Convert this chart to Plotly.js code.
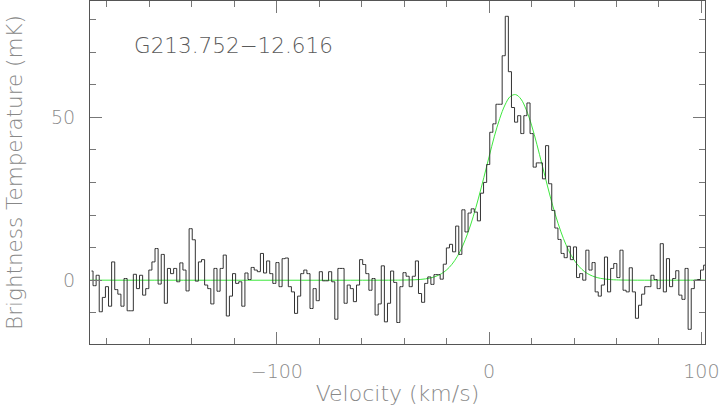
<!DOCTYPE html>
<html>
<head>
<meta charset="utf-8">
<script src="https://cdn.plot.ly/plotly-3.0.1.min.js"></script>
<style>html,body{margin:0;padding:0;background:#fff;}#chart{width:721px;height:406px;}</style>
</head>
<body>
<div id="chart"></div>
<script>
// Channel grid of the spectrum (km/s)
const V0 = -187.3;
const DV = 1.46;

// Brightness temperature per channel (mK)
const tempBlockA = [2.8, -1.7, 1.5, -9.7, -5.3, -2, -8, 5.6, -2.9, -4.3, -8, 0.5, -9.4, -9.4, 1.8, -2.6, 1.5, -4.6, -2.6, 3.1, 5.6, 9.7, -1.2, 7.9, -7.1, 3.6, 2, 3.6, -0.5, 5.3, 3.1, -3.3];
const tempBlockB = [15.8, 12.4, -0.3, 5.6, 6.3, -1.5, -2.6, -7.3, 3.6, -3.4, 3.6, 7.7, -11, -4.9, 2, -1, -0.5, -8, 2.2, 0.2, 3.9, 3.1, 2.6, 8.2, 2.2, 5.9, 2, -1, 5.4, -2, 6.6, 6.8, -2];
const tempBlockC = [-3.6, -10.2, -4.9, 2, 3.1, 2, -8.7, -2.6, -6.3, 2.6, -0.2, -0.2, 2.6, -0.5, -12, 3.6, 3.6, -7.1, -1.5, -2.6, -6.6, -1.5, 6.3, 4.8, 2, -3.1, 0.5, -10.7, -7.3, 4.4, -12.8];
const tempBlockD = [-7.1, 2.8, -0.7, -13, -2, 2.3, 1.2, -2, 1.2, 5.9, -4.1, -6.8, -1, 1, -1.3, 1.7, 1.7, 0.3, 4.9, 9.9, 11, 8.7, 16.6, 7.9, 21.6, 14.8, 20.6, 21.9, 20.9, 18.2];
const tempBlockE = [26.7, 30, 35.5, 45.4, 48, 54, 54, 68.9, 81, 64, 53, 48.5, 50.5, 45, 50.5, 54.4, 45, 34.7, 36, 36, 31.1, 41.3, 29.6, 21.4, 16, 12.5];
const tempBlockF = [8.2, 6.9, 10.4, 6.3, 10.2, 0.8, 2, 0, 9.2, 3.1, 5.4, -3.6, -4.9, -1.5, 7.1, -3.6, 3.6, 5.1, 0.8, 9.2, -3.1, -3.6, 3.8, -3.6, -11.7];
const tempBlockG = [-7.7, -4.3, -2, -2, 1.5, 0.2, -2.6, 11.2, -3.6, 6.6, -2, 0.5, 2.9, -4.6, -5.9, 3.6, -15.1, -2.6, 0, 0.2, 3.1, 4.6];

// Gaussian fit curve (green)
const fitVelocity = [-188, -45, -40, -37.5, -35, -32.5, -30, -27.5, -25, -22.5, -20, -17.5, -15, -12.5, -10, -7.5, -5, -2.5, 0, 2.5, 5, 7.5, 10, 12.5, 15, 17.5, 20, 22.5, 25, 27.5, 30, 32.5, 35, 37.5, 40, 42.5, 45, 47.5, 50, 52.5, 55, 57.5, 60, 65, 102];
const fitTemp = [0, 0, 0.03, 0.06, 0.11, 0.21, 0.39, 0.69, 1.19, 1.97, 3.15, 4.87, 7.26, 10.45, 14.5, 19.46, 25.2, 31.46, 37.9, 44.2, 49.6, 53.8, 56.4, 56.96, 55.6, 52.3, 47.6, 41.7, 35.3, 28.9, 22.8, 17.4, 12.8, 9.07, 6.2, 4.11, 2.6, 1.62, 0.96, 0.55, 0.31, 0.16, 0.08, 0.01, 0];

const sourceName = 'G213.752\u221212.616';
const xTitle = 'Velocity (km/s)';
const yTitle = 'Brightness Temperature (mK)';

const temperature = [].concat(tempBlockA, tempBlockB, tempBlockC, tempBlockD, tempBlockE, tempBlockF, tempBlockG);
const velocity = temperature.map((_, i) => V0 + i * DV);

const FONT = 'DejaVu Sans, sans-serif';
const W = 200;

const traces = [
  {x: fitVelocity, y: fitTemp, type: 'scatter', mode: 'lines',
   line: {color: '#3ee83e', width: 1, shape: 'spline'}, hoverinfo: 'skip'},
  {x: velocity, y: temperature, type: 'scatter', mode: 'lines',
   line: {color: '#333', width: 1, shape: 'hvh'}, hoverinfo: 'skip'}
];

const axisCommon = {
  showline: true, linecolor: '#555', linewidth: 1, mirror: 'allticks',
  ticks: 'inside', ticklen: 12, tickcolor: '#777', tickwidth: 1,
  showgrid: false, zeroline: false, tickmode: 'linear', tick0: 0,
  tickfont: {family: FONT, size: 19, color: '#8a8a8a', weight: W}
};

const layout = {
  width: 721, height: 406,
  margin: {l: 90, r: 16, t: 1, b: 62},
  paper_bgcolor: '#fff', plot_bgcolor: '#fff',
  showlegend: false,
  xaxis: Object.assign({}, axisCommon, {
    range: [-188, 101.7], dtick: 100,
    minor: {dtick: 20, tick0: 0, ticks: 'inside', ticklen: 6, tickcolor: '#777', showgrid: false},
    ticklabelstandoff: 10,
    title: {text: xTitle, font: {family: FONT, size: 22, color: '#888', weight: W}, standoff: 5}
  }),
  yaxis: Object.assign({}, axisCommon, {
    range: [-19.6, 85.7], dtick: 50,
    minor: {dtick: 10, tick0: 0, ticks: 'inside', ticklen: 6, tickcolor: '#777', showgrid: false},
    ticklabelstandoff: 10,
    title: {text: yTitle, font: {family: FONT, size: 21.5, color: '#888', weight: W}, standoff: 22}
  }),
  annotations: [{
    text: sourceName, xref: 'paper', yref: 'paper', x: 0.069, y: 0.87,
    xanchor: 'left', yanchor: 'middle', showarrow: false,
    font: {family: FONT, size: 21.5, color: '#5a5a5a', weight: W}
  }]
};

Plotly.newPlot('chart', traces, layout, {staticPlot: true, displayModeBar: false});
</script>
</body>
</html>
